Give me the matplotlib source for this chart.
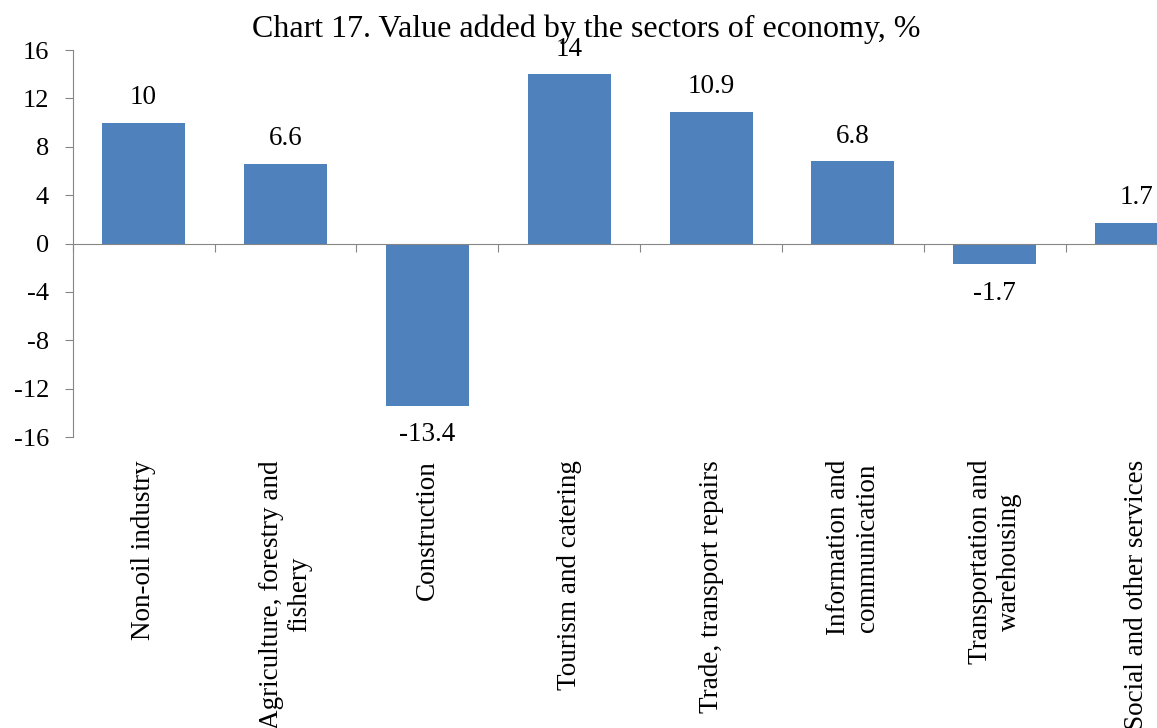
import matplotlib.pyplot as plt
import numpy as np

sectors = [
    "Non-oil industry",
    "Agriculture, forestry and\nfishery",
    "Construction",
    "Tourism and catering",
    "Trade, transport repairs",
    "Information and\ncommunication",
    "Transportation and\nwarehousing",
    "Social and other services",
]
growth = [10, 6.6, -13.4, 14, 10.9, 6.8, -1.7, 1.7]
y_ticks = [-16, -12, -8, -4, 0, 4, 8, 12, 16]

plt.rcParams['font.family'] = ['Liberation Serif', 'DejaVu Serif']
plt.rcParams['axes.unicode_minus'] = False

fig = plt.figure(figsize=(11.57, 7.28), dpi=100)
# plot area runs past the right edge, so the last bar is clipped
ax = fig.add_axes([0.0628, 0.3997, 0.981, 0.5316])

x = np.arange(len(sectors))
ax.bar(x, growth, width=0.585, color='#4F81BD', zorder=2)

ax.set_xlim(-0.5, len(sectors) - 0.5)
ax.set_ylim(-16, 16)
ax.set_yticks(y_ticks)
ax.tick_params(axis='y', labelsize=19, length=6, color='#868686', pad=11)

# category axis sits at zero, with ticks between the bars
ax.spines['bottom'].set_position(('data', 0))
ax.spines['bottom'].set_color('#868686')
ax.spines['left'].set_color('#868686')
ax.spines['top'].set_visible(False)
ax.spines['right'].set_visible(False)
ax.set_xticks(np.arange(len(sectors) + 1) - 0.5)
ax.set_xticklabels([])
ax.tick_params(axis='x', length=6, color='#868686', direction='out')

# value labels
for xi, v in zip(x, growth):
    off = 18 if v >= 0 else -21
    ax.annotate('%g' % v, xy=(xi, v), xytext=(0, off), textcoords='offset points',
                ha='center', va='center', fontsize=19.5)

# category names below the plot area
for xi, name in zip(x, sectors):
    ax.annotate(name, xy=(xi, -16), xytext=(0, -16.5), textcoords='offset points',
                rotation=90, ha='center', va='top', multialignment='center',
                fontsize=19.5, annotation_clip=False)

fig.text(0.5065, 1 - 37 / 728, 'Chart 17. Value added by the sectors of economy, %',
         ha='center', va='baseline', fontsize=23)

fig.savefig('out.png', dpi=100)
